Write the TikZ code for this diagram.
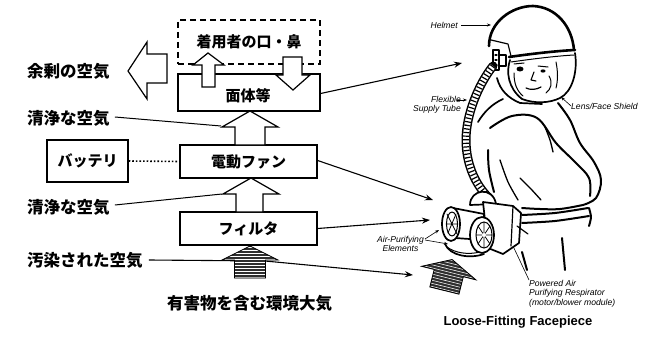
\documentclass[tikz,border=0pt]{standalone}
\usepackage{fontspec}
\setmainfont{Liberation Sans}
\newfontfamily\jpfont{Noto Sans CJK JP}
\usetikzlibrary{arrows.meta}

% a dark, finely striped block arrow pointing up:
% #1,#2 = tip, #3 = head half width, #4 = head base y, #5 = shaft half width (shaft is 18 long)
\newcommand{\stripedarrow}[5]{%
  \begin{scope}
    \clip (#1,#2) -- ({#1+#3},#4) -- ({#1+#5},#4) -- ({#1+#5},{#4+18}) -- ({#1-#5},{#4+18}) -- ({#1-#5},#4) -- ({#1-#3},#4) -- cycle;
    \fill[black!82] ({#1-#3-2},{#2-2}) rectangle ({#1+#3+2},{#4+20});
    \foreach \yy in {0,3,...,36} {\draw[white,line width=0.55pt] ({#1-#3-2},{#2+1+\yy}) -- ({#1+#3+2},{#2+1+\yy});}
  \end{scope}
  \draw[line width=0.8pt,line join=miter] (#1,#2) -- ({#1+#3},#4) -- ({#1+#5},#4) -- ({#1+#5},{#4+18}) -- ({#1-#5},{#4+18}) -- ({#1-#5},#4) -- ({#1-#3},#4) -- cycle;
}

\begin{document}
\begin{tikzpicture}[x=1pt,y=-1pt,
  box/.style={draw,line width=1.3pt,inner sep=0pt,font=\jpfont\bfseries\fontsize{15}{15}\selectfont},
  jlabel/.style={inner sep=0pt,anchor=west,font=\jpfont\bfseries\fontsize{16.5}{16.5}\selectfont},
  blk/.style={draw,line width=1.2pt,fill=white,line join=miter},
  feed/.style={line width=1pt},
  feedarr/.style={line width=1.1pt,-{Stealth[length=8pt,width=6pt]}},
  elabel/.style={inner sep=0pt,font=\itshape\fontsize{8.6}{9.5}\selectfont},
  callout/.style={line width=0.6pt,-{Stealth[length=4pt,width=3pt]}},
  person/.style={draw=black,line width=1.7pt,line cap=round,line join=round},
  outline/.style={draw=black,line width=2pt,line cap=round,line join=round},
]
\useasboundingbox (0,0) rectangle (662,337);

% ---------- block diagram ----------
\node[box,dash pattern=on 6pt off 4pt,minimum width=142pt,minimum height=44pt] (mouth) at (249,42) {着用者の口・鼻};
\node[box,minimum width=142pt,minimum height=37pt] (mask) at (249,92.5) {};
\node[font=\jpfont\bfseries\fontsize{15}{15}\selectfont,inner sep=0pt] (masktext) at (248,96) {面体等};
\node[box,minimum width=137pt,minimum height=33pt] (fan) at (248.5,161.5) {電動ファン};
\node[box,minimum width=137pt,minimum height=33pt] (filter) at (248.5,228.5) {フィルタ};
\node[box,minimum width=81pt,minimum height=42pt] (battery) at (87.5,161) {バッテリ};

\draw[line width=1.6pt,dotted] (battery.east) -- (fan.west);

% side labels
\node[jlabel] (surplus) at (27,71) {余剰の空気};
\node[jlabel] (clean1) at (27,118) {清浄な空気};
\node[jlabel] (clean2) at (27,207) {清浄な空気};
\node[jlabel] (dirty) at (27,260) {汚染された空気};
\node[jlabel] (ambient) at (167,303) {有害物を含む環境大気};

% hollow block arrows
\draw[blk] (128,71) -- (147,42) -- (147,54) -- (167,54) -- (167,83) -- (147,83) -- (147,99) -- cycle;
\draw[blk] (208,53) -- (224,65) -- (215,65) -- (215,87) -- (202,87) -- (202,65) -- (193,65) -- cycle;
\draw[blk] (293,90) -- (310,75) -- (302,75) -- (302,57) -- (283,57) -- (283,75) -- (276,75) -- cycle;
\draw[blk] (250,111) -- (278,127) -- (265,127) -- (265,145) -- (235,145) -- (235,127) -- (222,127) -- cycle;
\draw[blk] (251,178) -- (279,194) -- (263,194) -- (263,212) -- (236,212) -- (236,194) -- (223,194) -- cycle;

\coordinate (c1) at (221,126);
\coordinate (c2) at (222,194);
\draw[feed] (clean1.east) ++(5,-1) -- (c1);
\draw[feed] (clean2.east) ++(5,-2) -- (c2);

% polluted air line runs behind both dark arrows
\coordinate (pa) at (413,275);
\draw[feedarr] (dirty.east) ++(6,0) -- (265,261) -- (pa);
\stripedarrow{250}{246}{28}{260}{15.5}

% connectors to the drawing
\coordinate (hm) at (462,63);
\coordinate (md) at (433,200);
\coordinate (fl) at (430,220);
\draw[feedarr] (mask.east) ++(0,1) -- (hm);
\draw[feedarr] (fan.east) ++(0,-1) -- (md);
\draw[feedarr] (filter.east) -- (fl);

% ---------- wearer: body silhouette (coverall, bent arm) ----------
\draw[outline] plot[smooth,tension=0.6] coordinates {(558,103) (570,120) (580,143) (594,162) (601,180) (596,198) (583,205)};
\draw[outline] plot[smooth,tension=0.6] coordinates {(490,128) (512,116) (537,118) (556,143) (575,162) (589,178) (590,196)};
\draw[outline] plot[smooth,tension=0.6] coordinates {(583,205) (560,209) (540,209) (522,208)};
\draw[outline] plot[smooth,tension=0.6] coordinates {(488,150) (489,170) (494,192)};
\draw[person,line width=1.3pt] plot[smooth] coordinates {(545,127) (550,140) (553,152)};
\draw[person,line width=1.3pt] plot[smooth] coordinates {(500,160) (508,182) (518,200)};
\draw[person,line width=1.3pt] plot[smooth] coordinates {(520,178) (531,189) (541,200)};
\draw[outline] plot[smooth] coordinates {(522,215) (555,213) (588,208)};
\draw[outline] plot[smooth] coordinates {(522,223) (555,221) (589,216)};
\draw[outline] plot[smooth] coordinates {(589,208) (591,217) (589,226)};
\draw[outline] (522,252) -- (527,270);
\draw[outline] (562,238) -- (565,270);

% ---------- wearer: head, helmet and face shield ----------
\draw[person] (497,78) .. controls (500,90) and (508,98) .. (520,103) -- (542,104);
\draw[person] (503,99) .. controls (492,104) and (484,112) .. (478,122);
\draw[person,line width=2.6pt] (489,46) .. controls (489,22) and (512,6) .. (533,6) .. controls (556,7) and (572,26) .. (574,50);
\draw[person,line width=2.6pt] (509,57) .. controls (530,54) and (555,51) .. (575,50);
\draw[person,line width=1pt] (511,62) .. controls (532,59) and (556,56) .. (574,55);
\draw[person] (575,53) .. controls (578,72) and (572,92) .. (560,98) .. controls (550,103) and (535,104) .. (522,99);
\draw[person] (510,60) .. controls (506,72) and (508,88) .. (522,99);
% suspension bracket on the helmet side
\draw[person,line width=1.2pt] (491,40) -- (508,44) -- (511,56);
\draw[person,line width=1.2pt,fill=white] (493,50) rectangle (499,70);
\draw[person,line width=1.2pt] (499,55) -- (506,55) -- (506,66) -- (499,66);
\draw[person,line width=1.2pt] (495,55) -- (497,55) (495,60) -- (497,60) (495,65) -- (497,65);
% face
\fill (520,69) ellipse (3.5pt and 2.5pt);
\fill (543,71) ellipse (2.5pt and 1.6pt);
\draw[person,line width=1pt] (514,64) -- (524,63) (538,66) -- (548,67);
\draw[person,line width=1.1pt] (534,72) -- (531,80) -- (536,81);
\draw[person,line width=1.2pt] (526,88) .. controls (530,90) and (536,90) .. (541,87);
\draw[person,line width=1pt] (549,76) .. controls (553,83) and (551,89) .. (546,93);
\draw[person,line width=1pt] (514,73) .. controls (514,84) and (517,91) .. (523,96);
\draw[person,line width=1pt] (556,62) .. controls (558,72) and (558,80) .. (556,88);

% corrugated supply tube
\path (493,66) coordinate (t0) (488,197) coordinate (t1);
\draw[line width=9pt,line cap=round] (t0) .. controls (478,85) and (466,115) .. (466,140) .. controls (466,165) and (476,185) .. (t1);
\draw[line width=6pt,white] (t0) .. controls (478,85) and (466,115) .. (466,140) .. controls (466,165) and (476,185) .. (t1);
\draw[line width=6pt,dash pattern=on 1.2pt off 2.4pt] (t0) .. controls (478,85) and (466,115) .. (466,140) .. controls (466,165) and (476,185) .. (t1);

% motor/blower module
\draw[person,fill=white] (470,205) .. controls (470,189) and (493,186) .. (496,204) -- cycle;
\draw[person,fill=white] (483,202) -- (513,206) -- (521,213) -- (519,243) -- (503,254) -- (488,248) -- cycle;
\draw[person,line width=1.2pt] (513,206) -- (511,246);
\draw[person,line width=1.2pt] (517,226) -- (528,234);
\draw[person,fill=white] (453,208) -- (484,214) -- (484,240) -- (455,238) -- cycle;
\draw[person,fill=white] (451,224) ellipse (9pt and 17pt);
\draw[person,line width=1pt] (452,224) ellipse (5.5pt and 12pt);
\draw[person,line width=0.8pt] (447,214) -- (457,234) (446,224) -- (458,224) (448,233) -- (456,214);
\draw[person] (445,244) .. controls (450,256) and (470,259) .. (484,254);
\draw[person,line width=1pt] (447,247) .. controls (455,253) and (468,255) .. (480,252);
\draw[person,fill=white] (482,235) ellipse (12pt and 18pt);
\draw[person,line width=1pt] (484,235) ellipse (8pt and 13pt);
\draw[person,line width=0.8pt] (484,222) -- (484,248) (476,235) -- (492,235) (478,226) -- (490,244) (478,244) -- (490,226);
\fill[white] (484,235) circle (2pt);

% intake air at the filters
\begin{scope}[shift={(448,276)},rotate=-14]
  \stripedarrow{0}{-17}{28}{-3}{15}
\end{scope}

% callouts
\node[elabel,anchor=east] (lhelmet) at (458,25) {Helmet};
\coordinate (phelmet) at (491,25);
\draw[callout] (lhelmet.east) ++(3,0) -- (phelmet);
\node[elabel,anchor=east,align=right] (ltube) at (461,105) {Flexible\\Supply Tube};
\coordinate (ptube) at (467,100);
\draw[callout] (457,100) -- (ptube);
\node[elabel,anchor=west] (lshield) at (571,106) {Lens/Face Shield};
\coordinate (pshield) at (561,97);
\draw[callout] (lshield.west) -- (pshield);
\node[elabel,anchor=east,align=center] (lelem) at (424,244) {Air-Purifying\\Elements};
\coordinate (pel1) at (439,230);
\coordinate (pel2) at (448,244);
\draw[callout] (lelem.east) ++(1,-5) -- (pel1);
\draw[callout] (lelem.east) ++(1,-4) -- (pel2);
\node[elabel,anchor=north west,align=left] (lpapr) at (529,280) {Powered Air\\Purifying Respirator\\(motor/blower module)};
\coordinate (ppapr) at (513,246);
\draw[line width=0.6pt] (lpapr.north west) -- (ppapr);

\node[inner sep=0pt,font=\bfseries\fontsize{13}{14}\selectfont] (caption) at (518,322) {Loose-Fitting Facepiece};
\end{tikzpicture}
\end{document}
